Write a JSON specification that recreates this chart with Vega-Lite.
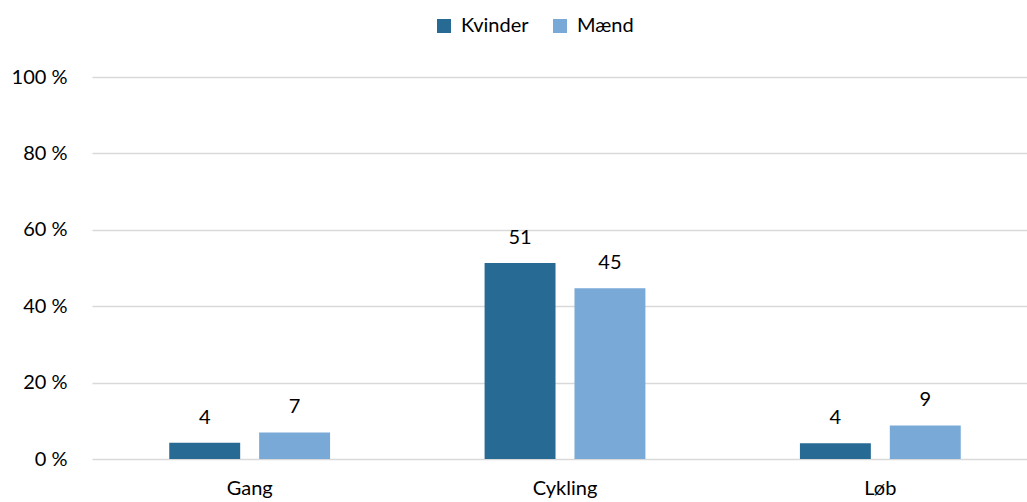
{
  "$schema": "https://vega.github.io/schema/vega-lite/v6.json",
  "width": 935,
  "height": 382,
  "autosize": {"type": "none"},
  "padding": {"left": 92, "top": 77, "right": 0, "bottom": 43},
  "background": "white",
  "config": {
    "view": {"stroke": null},
    "font": "Lato",
    "text": {"font": "Lato"}
  },
  "data": {
    "values": [
      {"aktivitet": "Gang", "køn": "Kvinder", "andel": 4.24},
      {"aktivitet": "Gang", "køn": "Mænd", "andel": 6.94},
      {"aktivitet": "Cykling", "køn": "Kvinder", "andel": 51.3},
      {"aktivitet": "Cykling", "køn": "Mænd", "andel": 44.7},
      {"aktivitet": "Løb", "køn": "Kvinder", "andel": 4.1},
      {"aktivitet": "Løb", "køn": "Mænd", "andel": 8.8}
    ]
  },
  "encoding": {
    "x": {
      "field": "aktivitet",
      "type": "nominal",
      "sort": ["Gang", "Cykling", "Løb"],
      "scale": {"range": [0, 946], "paddingInner": 0.49, "paddingOuter": 0.245},
      "axis": {
        "title": null,
        "labelAngle": 0,
        "ticks": false,
        "domain": false,
        "labelFont": "Lato",
        "labelFontSize": 20,
        "labelColor": "#000000",
        "labelPadding": 19
      }
    },
    "xOffset": {
      "field": "køn",
      "type": "nominal",
      "sort": ["Kvinder", "Mænd"],
      "scale": {"paddingInner": 0.211, "paddingOuter": 0}
    },
    "y": {
      "field": "andel",
      "type": "quantitative",
      "scale": {"domain": [0, 100], "nice": false},
      "axis": {
        "title": null,
        "values": [0, 20, 40, 60, 80, 100],
        "labelExpr": "datum.value + ' %'",
        "ticks": false,
        "domain": false,
        "grid": true,
        "gridColor": "#D9D9D9",
        "gridWidth": 1.3,
        "labelFont": "Lato",
        "labelFontSize": 20,
        "labelColor": "#000000",
        "labelPadding": 25
      }
    }
  },
  "layer": [
    {
      "mark": {"type": "bar"},
      "encoding": {
        "color": {
          "field": "køn",
          "type": "nominal",
          "sort": ["Kvinder", "Mænd"],
          "scale": {"domain": ["Kvinder", "Mænd"], "range": ["#276A93", "#78A9D7"]},
          "legend": {
            "title": null,
            "orient": "none",
            "direction": "horizontal",
            "legendX": 342,
            "legendY": -61,
            "padding": 0,
            "symbolType": "square",
            "symbolSize": 196,
            "symbolStrokeWidth": 0,
            "labelFont": "Lato",
            "labelFontSize": 20,
            "labelColor": "#000000",
            "labelOffset": 7,
            "columnPadding": 21
          }
        }
      }
    },
    {
      "mark": {"type": "text", "baseline": "alphabetic", "dy": -19, "fontSize": 20, "color": "#000000", "font": "Lato"},
      "encoding": {
        "text": {"field": "andel", "type": "quantitative", "format": ".0f"}
      }
    }
  ]
}
